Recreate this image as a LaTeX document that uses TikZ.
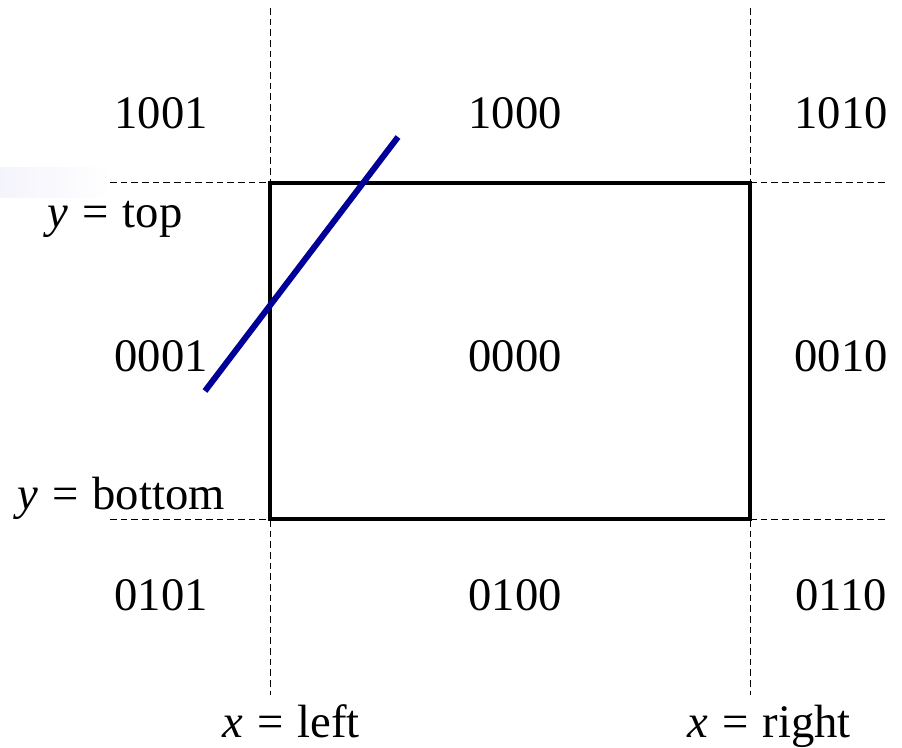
\documentclass[tikz,border=0pt]{standalone}
\usepackage{fontspec}
\setmainfont{Liberation Serif}
\newcommand{\eqsp}{\kern1.8pt\ =\ \kern1.8pt}
\begin{document}
\begin{tikzpicture}[x=0.75pt,y=-0.75pt,
  guide/.style={draw=black,line width=0.75pt,dash pattern=on 5pt off 3pt},
  frameline/.style={draw=black,line width=2.6pt},
  seg/.style={line width=4.5pt,draw={rgb,255:red,0;green,0;blue,153}},
  code/.style={font=\fontsize{35}{40}\selectfont,anchor=base,inner sep=0pt},
  lbl/.style={font=\fontsize{35}{40}\selectfont,anchor=base,inner sep=0pt}]
\useasboundingbox (0,0) rectangle (902,748);
\shade[left color={rgb,255:red,244;green,244;blue,252},right color=white] (0,168) rectangle (112,198);
% corners
\coordinate (TL) at (270,183);
\coordinate (TR) at (750,183);
\coordinate (BL) at (270,519);
\coordinate (BR) at (750,519);
\coordinate (vLt) at (270,8);
\coordinate (vLb) at (270,695);
\coordinate (vRt) at (750,8);
\coordinate (vRb) at (750,695);
\coordinate (hTl) at (110,183);
\coordinate (hTr) at (888,183);
\coordinate (hBl) at (110,519);
\coordinate (hBr) at (888,519);
\draw[guide] (vLt) -- (vLb);
\draw[guide] (vRt) -- (vRb);
\draw[guide] (hTl) -- (hTr);
\draw[guide] (hBl) -- (hBr);
\draw[frameline] (TL) -- (TR) -- (BR) -- (BL) -- cycle;
\coordinate (p1) at (205,391);
\coordinate (p2) at (398,137);
\draw[seg] (p1) -- (p2);
% codes
\node[code] (c1001) at (161,129) {1001};
\node[code] (c1000) at (515,129) {1000};
\node[code] (c1010) at (841,129) {1010};
\node[code] (c0001) at (161,371) {0001};
\node[code] (c0000) at (515,371) {0000};
\node[code] (c0010) at (841,371) {0010};
\node[code] (c0101) at (161,610) {0101};
\node[code] (c0100) at (515,610) {0100};
\node[code] (c0110) at (841,610) {0110};
% labels
\node[lbl] (ltop) at (115,228) {\itshape y\upshape\eqsp top};
\node[lbl] (lbot) at (121,509) {\itshape y\upshape\eqsp bottom};
\node[lbl] (lleft) at (291,737) {\itshape x\upshape\eqsp left};
\node[lbl] (lright) at (769,737) {\itshape x\upshape\eqsp right};
\end{tikzpicture}
\end{document}
